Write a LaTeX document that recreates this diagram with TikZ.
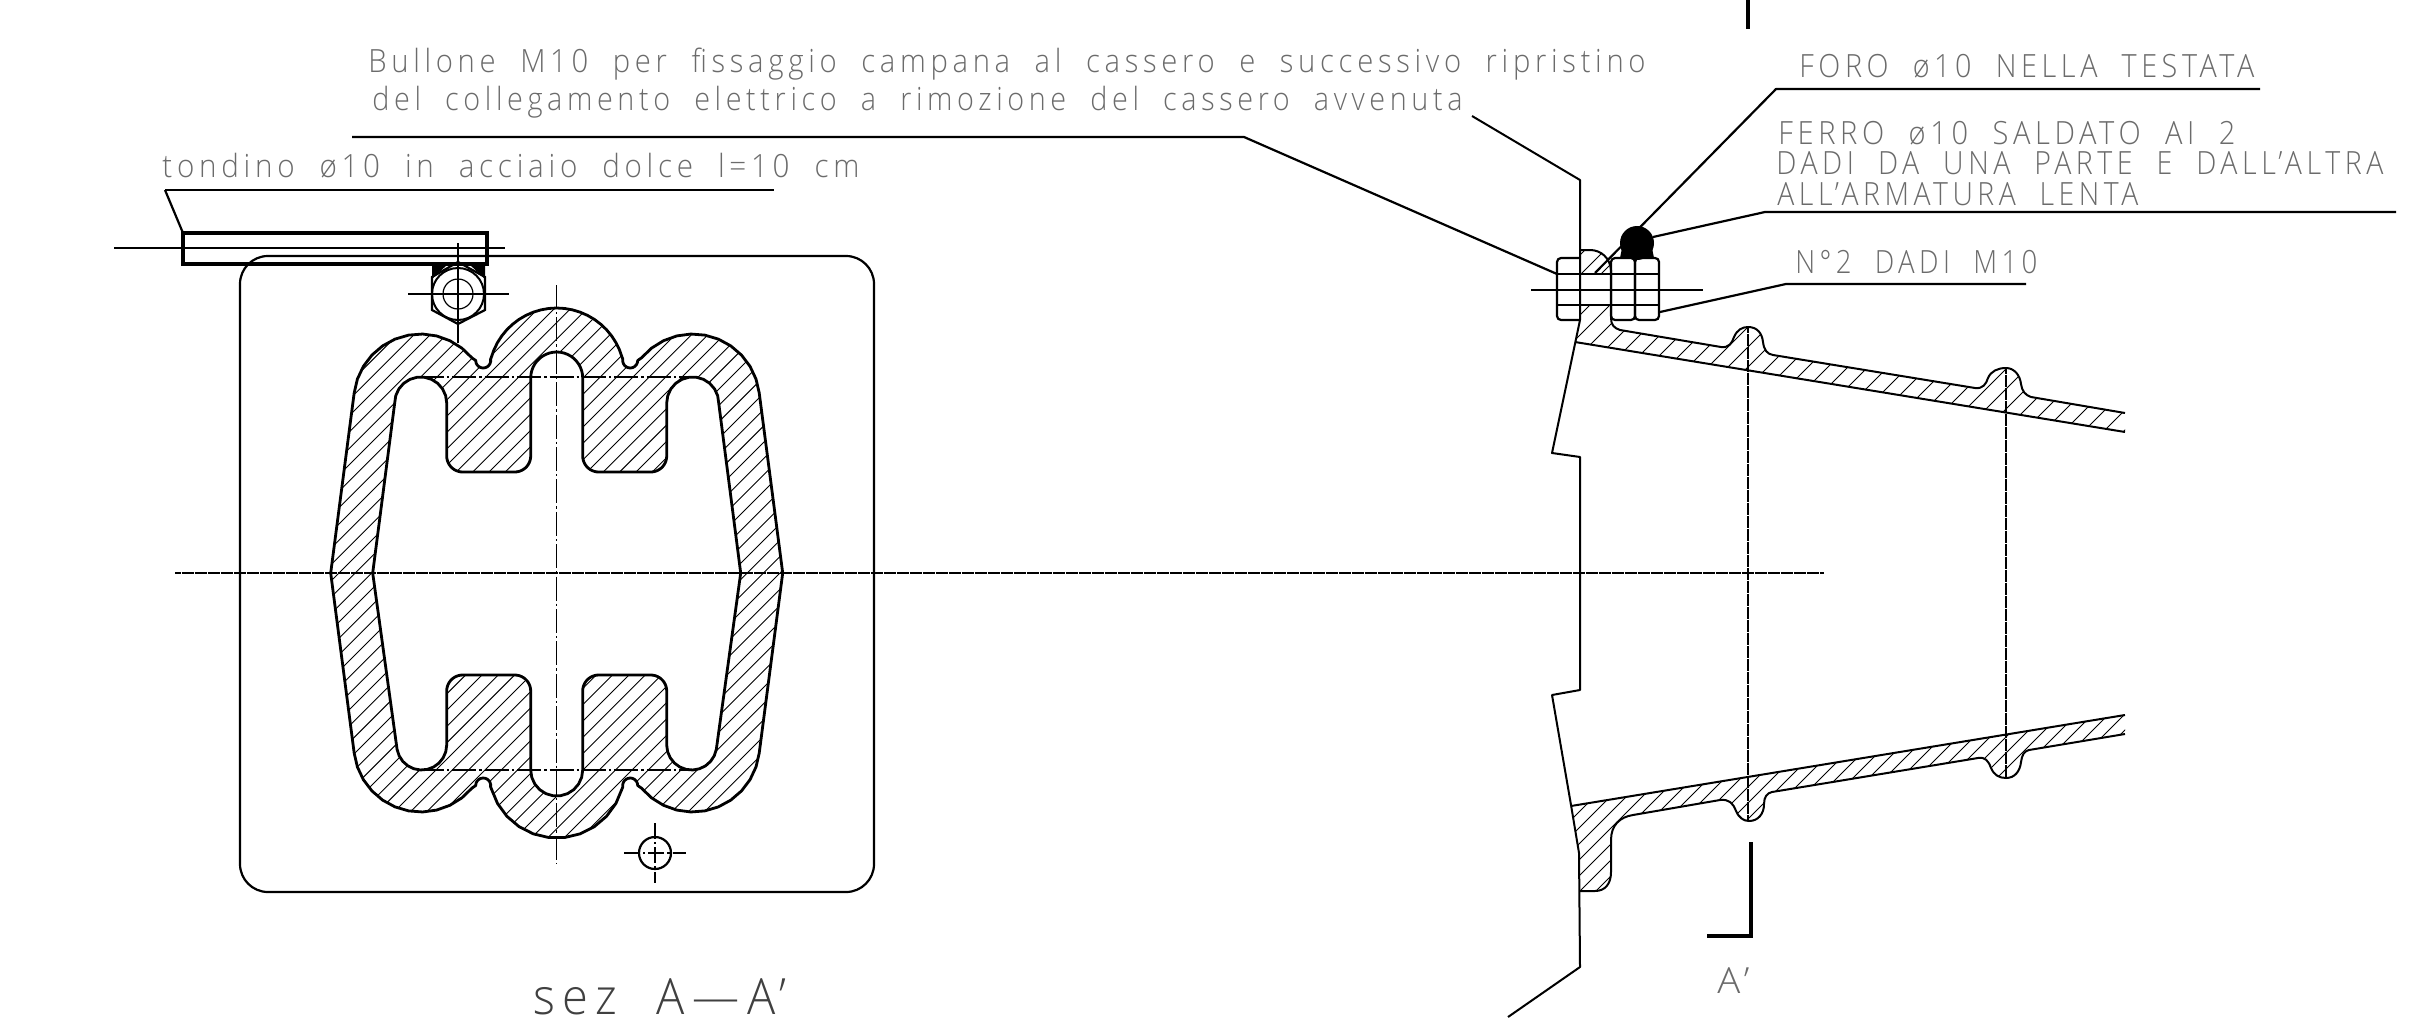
\documentclass[tikz,border=0pt]{standalone}
\usepackage{fontspec}
\usepackage{graphicx}
\newfontfamily\cad[LetterSpace=16,WordSpace=2.0]{Open Sans Light}
\definecolor{txt}{gray}{0.42}
\newcommand\A[5]{-- plot[domain=#4:#5,samples=12,variable=\t] ({556.7+(#1)+(#3)*cos(\t)},{573-(#2)-(#3)*sin(\t)})}
\newcommand\fit[2]{\resizebox{#1pt}{\height}{\cad\fontsize{16}{16}\selectfont #2}}
\newcommand\fitB[3]{\resizebox{#1pt}{\height}{\cad\fontsize{#3}{#3}\selectfont #2}}
\def\outerP{(556.7,308)
 \A{0}{197}{68}{90}{16} \A{73.5}{212.5}{7.5}{170}{360} \A{136}{172}{67}{140}{7}
 -- (782.7,573)
 \A{136}{-172}{67}{-7}{-140} \A{73.5}{-212.5}{7.5}{0}{190} \A{0}{-197}{68}{-16}{-164}
 \A{-73.5}{-212.5}{7.5}{-10}{180} \A{-136}{-172}{67}{-40}{-173}
 -- (330.7,573)
 \A{-136}{172}{67}{173}{40} \A{-73.5}{212.5}{7.5}{-180}{10} \A{0}{197}{68}{164}{90} -- cycle}
\def\innerP{(556.7,352)
 \A{0}{195}{26}{90}{0} \A{42}{117}{16}{180}{270} \A{94}{117}{16}{270}{360} \A{136}{170}{26}{180}{0}
 -- (740.7,573)
 \A{135}{-172}{25}{-10}{-180} \A{94}{-118}{16}{0}{90} \A{42}{-118}{16}{90}{180} \A{0}{-197}{26}{0}{-180}
 \A{-42}{-118}{16}{0}{90} \A{-94}{-118}{16}{90}{180} \A{-135}{-172}{25}{0}{-170}
 -- (372.7,573)
 \A{-136}{170}{26}{180}{0} \A{-94}{117}{16}{180}{270} \A{-42}{117}{16}{270}{360} \A{0}{195}{26}{180}{90} -- cycle}
\def\upperEdge{(1580,250) -- (1590,250) .. controls (1601,250) and (1610,258) .. (1611,270) -- (1611,318) .. controls (1611,325) and (1614,328) .. (1620,330) -- (1721,347) .. controls (1729,348) and (1732,343) .. (1734,337) .. controls (1737,330) and (1742,327) .. (1748,327) .. controls (1757,327) and (1762,333) .. (1763,342) .. controls (1764,350) and (1767,354) .. (1773,355) -- (1975,388) .. controls (1983,389) and (1986,384) .. (1988,378) .. controls (1991,371) and (1998,368) .. (2006,368) .. controls (2014,368) and (2020,375) .. (2021,384) .. controls (2022,391) and (2025,395) .. (2031,397) -- (2125,413)}
\def\lowerEdge{(1580,891) -- (1595,891) .. controls (1605,891) and (1611,884) .. (1611,872) -- (1611,840) .. controls (1611,825) and (1620,817) .. (1633,815) -- (1720,800) .. controls (1729,799) and (1733,803) .. (1736,811) .. controls (1739,818) and (1744,821) .. (1749,821) .. controls (1758,821) and (1764,814) .. (1764,804) .. controls (1764,797) and (1767,793) .. (1772,792) -- (1978,758) .. controls (1985,757) and (1988,760) .. (1991,768) .. controls (1994,775) and (1999,778) .. (2006,778) .. controls (2015,778) and (2020,771) .. (2021,762) .. controls (2022,755) and (2024,751) .. (2029,750) -- (2125,734)}
\tikzset{
 lbl/.style={inner sep=0pt,anchor=base west,text=txt},
 hatchline/.style={line width=0.45pt,black},
 outline/.style={line width=1.4pt,line join=round},
 wallline/.style={line width=1pt,line join=round},
 leader/.style={line width=1.1pt,line join=round},
 rodline/.style={line width=1.9pt},
 sectionline/.style={line width=2pt,line join=miter},
 thinaxis/.style={line width=0.6pt},
 denseaxis/.style={line width=1pt,dash pattern=on 3pt off 0.25pt},
 centerline/.style={line width=0.55pt,dash pattern=on 12pt off 1.5pt on 1.2pt off 1.5pt},
 nutline/.style={line width=1.1pt}
}
\begin{document}
\begin{tikzpicture}[x=0.5pt,y=-0.5pt]
\useasboundingbox (0,0) rectangle (2424,1017);

% ---- plate
\draw[line width=1.1pt,rounded corners=14pt] (240,256) rectangle (874,892);

% ---- section body hatch
\begin{scope}[even odd rule]
 \clip \outerP \innerP;
 \foreach \k in {-12,...,44}
  \draw[hatchline] ({863+16.33*\k-900},900) -- ({863+16.33*\k-200},200);
\end{scope}
\draw[outline] \outerP;
\draw[outline] \innerP;

% ---- body axes
\draw[centerline] (556.7,285) -- (556.7,863);
\draw[centerline] (420,377) -- (693,377);
\draw[centerline] (420,770) -- (693,770);

% ---- bolt seen from the front
\fill (432,264) -- (448,264) -- (432,279) -- cycle;
\fill (485,264) -- (469,264) -- (485,279) -- cycle;
\draw[nutline] (458,262) -- (485,277) -- (485,310) -- (458,324) -- (432,310) -- (432,277) -- cycle;
\draw[line width=1pt] (458,294) circle[radius=26];
\draw[line width=0.6pt] (458,294) circle[radius=15];
\draw[thinaxis] (458,243) -- (458,343);
\draw[thinaxis] (408,294) -- (509,294);

% ---- rod
\draw[rodline] (183,233) rectangle (487,264);
\draw[thinaxis] (114,248) -- (505,248);

% ---- small hole
\draw[line width=1.1pt] (655,853) circle[radius=16];
\draw[centerline,dash pattern=on 8pt off 1.5pt on 1.2pt off 1.5pt] (624,853) -- (686,853);
\draw[centerline,dash pattern=on 8pt off 1.5pt on 1.2pt off 1.5pt] (655,823) -- (655,883);

% ---- upper bell hatch
\begin{scope}
 \clip \upperEdge -- (2125,432) -- (1575,342) -- (1580,320) -- cycle;
 \foreach \c in {1815,1835,...,2575}
  \draw[hatchline] ({\c-500},500) -- ({\c-150},150);
\end{scope}
\fill[white] (1581,275) rectangle (1610.5,304);
% ---- lower bell hatch
\begin{scope}
 \clip \lowerEdge -- (2125,715) -- (1571,806) -- (1579,853) -- cycle;
 \foreach \c in {2375,2391,...,2871}
  \draw[hatchline] ({\c-1000},1000) -- ({\c-600},600);
\end{scope}
\draw[wallline] \upperEdge;
\draw[wallline] (1575,342) -- (2125,432);
\draw[wallline] \lowerEdge;
\draw[wallline] (1571,806) -- (2125,715);

% ---- bell axes
\draw[denseaxis] (1748,327) -- (1748,821);
\draw[denseaxis] (2006,368) -- (2006,778);

% ---- wall
\draw[wallline] (1472,116) -- (1580,180) -- (1580,320) -- (1552,453) -- (1580,457) -- (1580,690) -- (1552,695) -- (1571,805) -- (1579,853) -- (1580,967) -- (1508,1017);

% ---- nuts
\fill (1637,243) circle[radius=17];
\fill (1620,258) -- (1654,258) -- (1652,248) -- (1622,248) -- cycle;
\draw[nutline,rounded corners=2pt] (1580,258) -- (1557,258) -- (1557,320) -- (1580,320);
\draw[nutline,rounded corners=2pt] (1611,258) rectangle (1635,320);
\draw[nutline,rounded corners=2pt] (1635,258) rectangle (1659,320);
\draw[nutline] (1557,274) -- (1659,274);
\draw[nutline] (1557,305) -- (1659,305);
\draw[thinaxis] (1531,290) -- (1703,290);

% ---- main axis
\draw[denseaxis] (175,573) -- (1824,573);

% ---- section marks
\draw[sectionline] (1748,0) -- (1748,29);
\draw[sectionline] (1751,842) -- (1751,936) -- (1707,936);

% ---- leaders
\draw[leader] (165,190) -- (774,190);
\draw[leader] (165,190) -- (183,233);
\draw[leader] (352,137) -- (1244,137) -- (1557,274);
\draw[leader] (2260,89) -- (1776,89) -- (1595,273);
\draw[leader] (2396,212) -- (1765,212) -- (1653,237);
\draw[leader] (2026,284) -- (1786,284) -- (1660,312);

% ---- texts
\node[lbl] (t1) at (368,72) {\fit{638.5}{Bullone M10 per fissaggio campana al cassero e successivo ripristino}};
\node[lbl] (t2) at (372,110) {\fit{545}{del collegamento elettrico a rimozione del cassero avvenuta}};
\node[lbl] (t3) at (162,177) {\fit{348.5}{tondino ø10 in acciaio dolce l=10 cm}};
\node[lbl] (t4) at (1799,77) {\fit{227.5}{FORO ø10 NELLA TESTATA}};
\node[lbl] (t5) at (1778,144) {\fit{228.5}{FERRO ø10 SALDATO AI 2}};
\node[lbl] (t6) at (1776,174) {\fit{303.5}{DADI DA UNA PARTE E DALL’ALTRA}};
\node[lbl] (t7) at (1777,205) {\fit{180.5}{ALL’ARMATURA LENTA}};
\node[lbl] (t8) at (1795,273) {\fit{121}{N°2 DADI M10}};
\node[lbl] (t9) at (1717,993) {\fitB{16}{A’}{18}};
\node[lbl,text=black!75] (t10) at (533,1014) {\fitB{126.5}{sez A—A’}{25}};
\end{tikzpicture}
\end{document}
